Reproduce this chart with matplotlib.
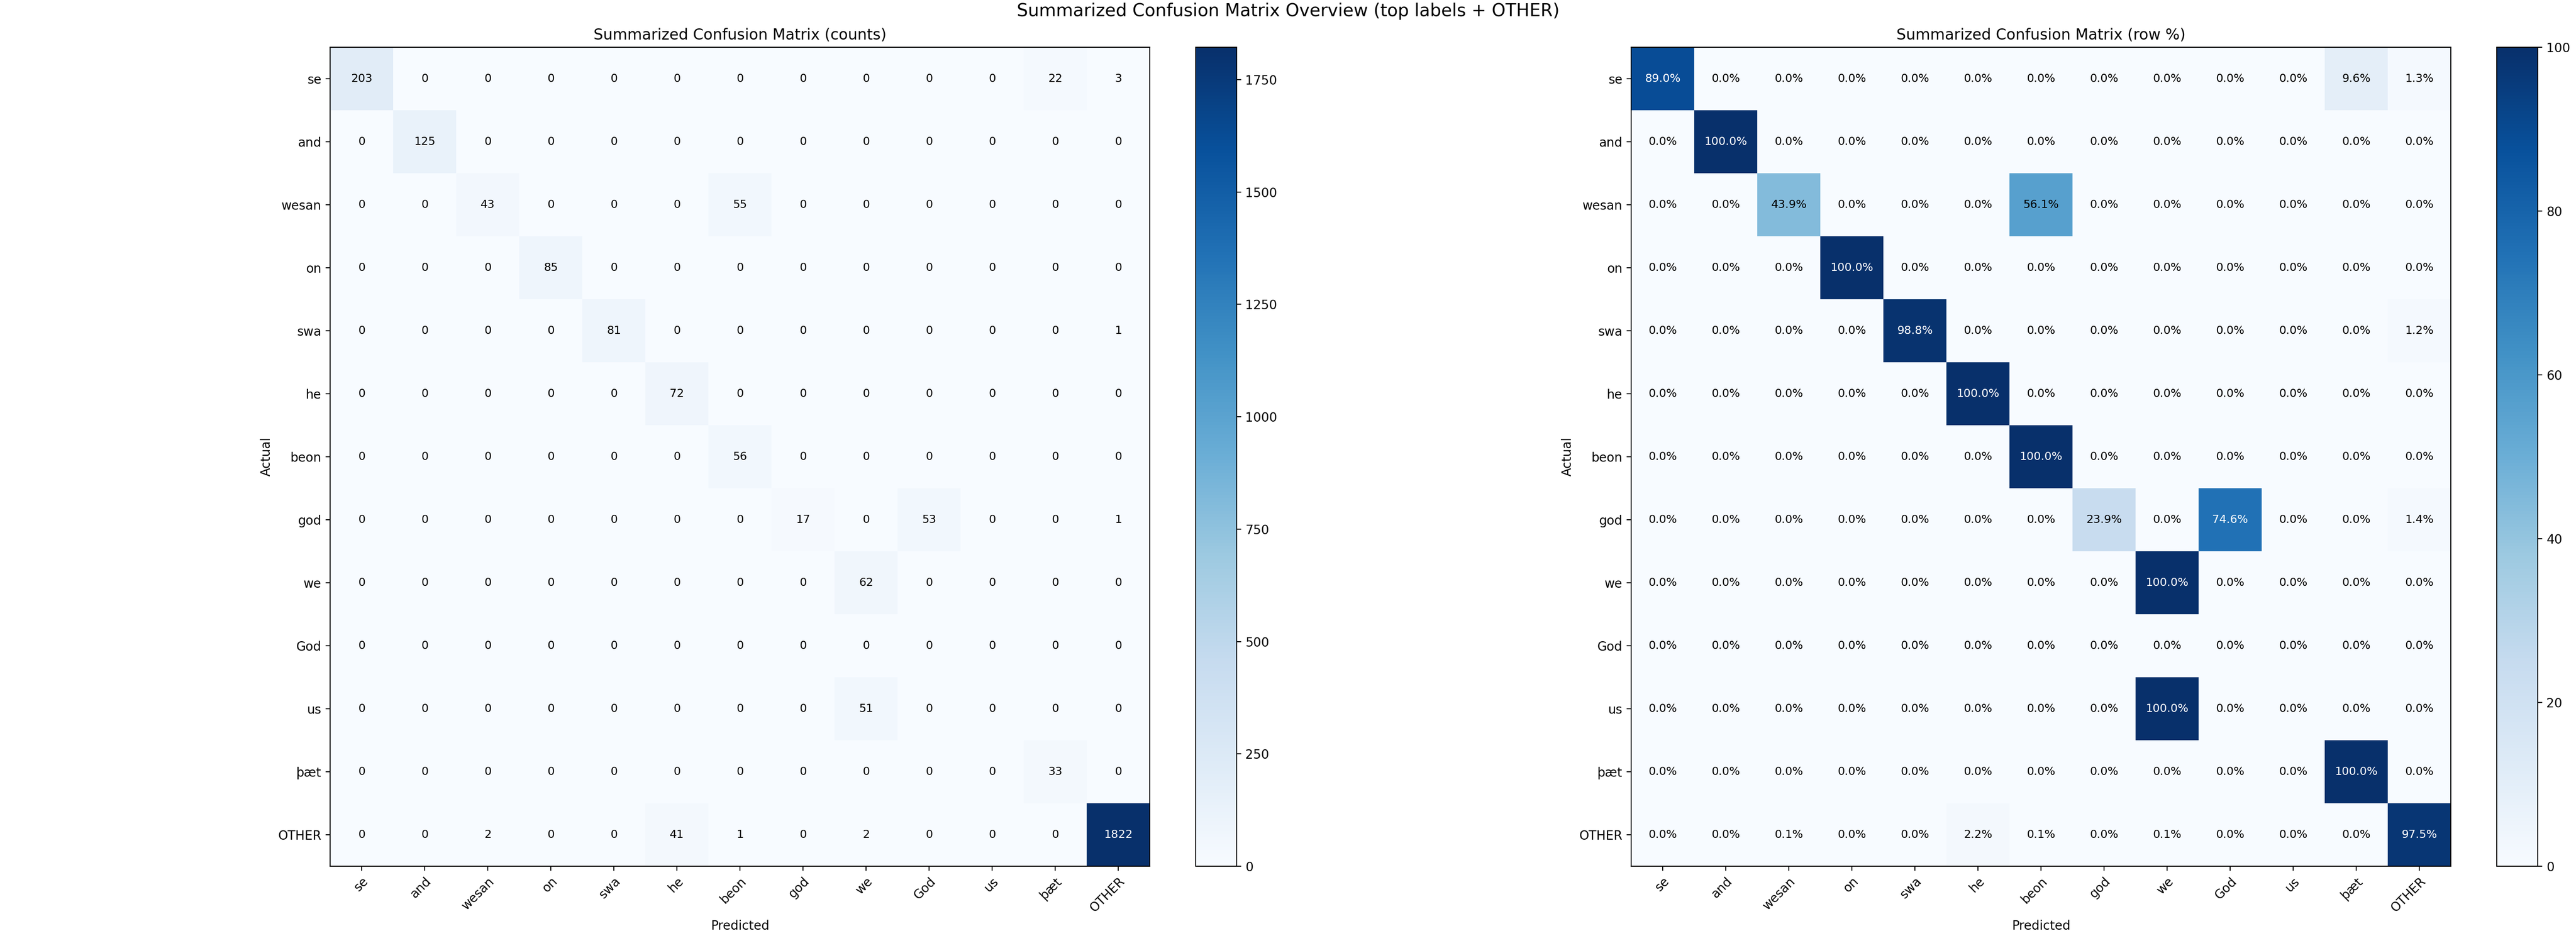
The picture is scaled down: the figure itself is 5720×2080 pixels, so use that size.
import numpy as np
import matplotlib
import matplotlib.pyplot as plt

matplotlib.use("agg")

labels = ["se", "and", "wesan", "on", "swa", "he", "beon", "god", "we", "God", "us", "þæt", "OTHER"]

# rows = actual, columns = predicted
row_se = [203, 0, 0, 0, 0, 0, 0, 0, 0, 0, 0, 22, 3]
row_and = [0, 125, 0, 0, 0, 0, 0, 0, 0, 0, 0, 0, 0]
row_wesan = [0, 0, 43, 0, 0, 0, 55, 0, 0, 0, 0, 0, 0]
row_on = [0, 0, 0, 85, 0, 0, 0, 0, 0, 0, 0, 0, 0]
row_swa = [0, 0, 0, 0, 81, 0, 0, 0, 0, 0, 0, 0, 1]
row_he = [0, 0, 0, 0, 0, 72, 0, 0, 0, 0, 0, 0, 0]
row_beon = [0, 0, 0, 0, 0, 0, 56, 0, 0, 0, 0, 0, 0]
row_god = [0, 0, 0, 0, 0, 0, 0, 17, 0, 53, 0, 0, 1]
row_we = [0, 0, 0, 0, 0, 0, 0, 0, 62, 0, 0, 0, 0]
row_God = [0, 0, 0, 0, 0, 0, 0, 0, 0, 0, 0, 0, 0]
row_us = [0, 0, 0, 0, 0, 0, 0, 0, 51, 0, 0, 0, 0]
row_thaet = [0, 0, 0, 0, 0, 0, 0, 0, 0, 0, 0, 33, 0]
row_other = [0, 0, 2, 0, 0, 41, 1, 0, 2, 0, 0, 0, 1822]

counts = np.array([row_se, row_and, row_wesan, row_on, row_swa, row_he, row_beon,
                   row_god, row_we, row_God, row_us, row_thaet, row_other], dtype=float)

row_sums = counts.sum(axis=1, keepdims=True)
pct = np.divide(counts * 100.0, row_sums, out=np.zeros_like(counts), where=row_sums > 0)

fig = plt.figure(figsize=(28.6, 10.4), dpi=200)

W, H = 5720.0, 2080.0
ax_w = 1820 / W
ax_h = 1820 / H
ax_y = (H - 1925) / H
cb_w = 91 / W


def draw_matrix(ax, cax, data, title, fmt, thresh):
    im = ax.imshow(data, cmap="Blues", aspect="auto", interpolation="nearest")
    cb = fig.colorbar(im, cax=cax)
    cb.ax.tick_params(labelsize=10)

    ax.set_xticks(range(len(labels)))
    ax.set_yticks(range(len(labels)))
    ax.set_xticklabels(labels, rotation=45, ha="right", rotation_mode="anchor")
    ax.set_yticklabels(labels)
    ax.set_xlabel("Predicted")
    ax.set_ylabel("Actual")
    ax.set_title(title, fontsize=12)

    for i in range(data.shape[0]):
        for j in range(data.shape[1]):
            v = data[i, j]
            ax.text(j, i, fmt(v), ha="center", va="center", fontsize=9,
                    color="white" if v > thresh else "black")
    return ax


ax1 = fig.add_axes([733 / W, ax_y, ax_w, ax_h])
cax1 = fig.add_axes([2655 / W, ax_y, cb_w, ax_h])
draw_matrix(ax1, cax1, counts, "Summarized Confusion Matrix (counts)",
            lambda v: f"{int(v)}", counts.max() / 2)

ax2 = fig.add_axes([3622 / W, ax_y, ax_w, ax_h])
cax2 = fig.add_axes([5544 / W, ax_y, cb_w, ax_h])
draw_matrix(ax2, cax2, pct, "Summarized Confusion Matrix (row %)",
            lambda v: f"{v:.1f}%", 60)

fig.suptitle("Summarized Confusion Matrix Overview (top labels + OTHER)",
             fontsize=14, x=0.5, y=0.997, va="top")

fig.savefig("out.png", dpi=200)
